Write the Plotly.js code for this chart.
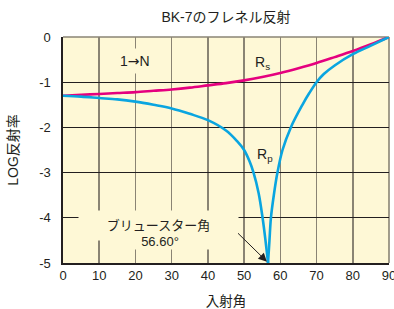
<!DOCTYPE html>
<html>
<head>
<meta charset="utf-8">
<script src="https://cdn.plot.ly/plotly-3.0.1.min.js"></script>
<style>html,body{margin:0;padding:0;background:#fff;}#chart{width:394px;height:309px;}</style>
</head>
<body>
<div id="chart"></div>
<script>
// Data
var anglesS = [0,5,10,15,20,25,30,35,40,45,50,55,60,65,70,75,80,85,90];
var logRs   = [-1.30,-1.28,-1.26,-1.24,-1.22,-1.19,-1.16,-1.12,-1.07,-1.02,-0.96,-0.885,-0.795,-0.69,-0.575,-0.445,-0.31,-0.16,0];

// Rp: left branch down to the Brewster angle, then right branch
var anglesP = [0,5,10,15,20,25,30,35,40,45,48,50,51.5,52.6,54,55.1,55.9,56.6,57.0,57.4,58.2,59.2,60.6,62.9,66.1,68,70,72,75,80,85,90];
var logRp   = [-1.30,-1.32,-1.35,-1.38,-1.43,-1.50,-1.58,-1.70,-1.84,-2.07,-2.30,-2.50,-2.75,-3.0,-3.45,-4.0,-4.5,-5.0,-4.5,-4.0,-3.5,-3.0,-2.5,-2.0,-1.50,-1.24,-1.0,-0.82,-0.63,-0.38,-0.19,0];
var brewsterIndex = 17; // index of 56.6° in anglesP

var xTicks = [0,10,20,30,40,50,60,70,80,90];
var yTicks = [-5,-4,-3,-2,-1,0];
var yTickText = ['-5','-4','-3','-2','-1','0'];

var FONT = 'Liberation Sans, Arial, Noto Sans CJK JP, sans-serif';
var TXT = '#231f20';
var BG = '#fef8d6';
var CYAN = '#0aa5e0';

var traces = [
  {x: anglesS, y: logRs, mode:'lines', line:{color:'#e5007f', width:2.6, shape:'spline', smoothing:1}, hoverinfo:'skip'},
  {x: anglesP.slice(0, brewsterIndex+1), y: logRp.slice(0, brewsterIndex+1), mode:'lines',
   line:{color:CYAN, width:2.6, shape:'spline', smoothing:1}, hoverinfo:'skip'},
  {x: anglesP.slice(brewsterIndex), y: logRp.slice(brewsterIndex), mode:'lines',
   line:{color:CYAN, width:2.6, shape:'spline', smoothing:1}, hoverinfo:'skip'}
];

var layout = {
  width:394, height:309,
  margin:{l:63, r:5, t:37, b:46},
  paper_bgcolor:'#ffffff',
  plot_bgcolor:BG,
  showlegend:false,
  font:{family:FONT, size:13, color:TXT},
  title:{text:'BK-7のフレネル反射', font:{family:FONT, size:14, color:TXT},
         xref:'paper', x:0.5, xanchor:'center', yref:'container', y:1-17/309, yanchor:'middle'},
  xaxis:{range:[0,90], tickvals:xTicks, ticks:'', ticklabeloverflow:'allow',
         showgrid:true, gridcolor:'#8a8474', gridwidth:1.6, zeroline:false,
         showline:true, linecolor:TXT, linewidth:1.6,
         tickfont:{family:FONT, size:13, color:TXT},
         title:{text:'入射角', font:{family:FONT, size:13.5, color:TXT}, standoff:24}},
  yaxis:{range:[-5,0], tickvals:yTicks, ticktext:yTickText, ticks:'outside', ticklen:8, tickcolor:'rgba(0,0,0,0)',
         showgrid:true, gridcolor:TXT, gridwidth:1.2, zeroline:false,
         showline:true, linecolor:TXT, linewidth:1.6,
         tickfont:{family:FONT, size:13, color:TXT},
         title:{text:'LOG反射率', font:{family:FONT, size:14, color:TXT}, standoff:17}},
  shapes:[
    {type:'line', xref:'paper', yref:'paper', x0:0, x1:1, y0:1, y1:1, line:{color:'#8a8474', width:1.6}, layer:'below'},
    {type:'line', xref:'paper', yref:'paper', x0:1, x1:1, y0:0, y1:1, line:{color:'#8a8474', width:1.6}, layer:'below'}
  ],
  annotations:[
    {x:20, y:-0.54, xref:'x', yref:'y', text:'1<span style="font-family:DejaVu Sans">→</span>N', showarrow:false, bgcolor:BG, borderpad:4,
     font:{family:FONT, size:14, color:TXT}},
    {x:55, y:-0.58, xref:'x', yref:'y', text:'R<sub>s</sub>', showarrow:false,
     font:{family:FONT, size:14, color:TXT}},
    {x:55.9, y:-2.6, xref:'x', yref:'y', text:'R<sub>p</sub>', showarrow:false,
     font:{family:FONT, size:14, color:TXT}},
    {x:26.3, y:-4.16, xref:'x', yref:'y', text:'ブリュースター角', showarrow:false, bgcolor:BG,
     width:157, height:27, font:{family:FONT, size:13, color:TXT}},
    {x:26.7, y:-4.52, xref:'x', yref:'y', text:'56.60°', showarrow:false, bgcolor:BG,
     width:100, height:14, font:{family:FONT, size:13, color:TXT}},
    {x:56.3, y:-4.97, xref:'x', yref:'y', ax:47.9, ay:-4.31, axref:'x', ayref:'y', text:'',
     showarrow:true, arrowhead:2, arrowsize:1.7, arrowwidth:1, arrowcolor:TXT, standoff:0, startstandoff:0}
  ]
};

Plotly.newPlot('chart', traces, layout, {displayModeBar:false, staticPlot:true});
</script>
</body>
</html>
